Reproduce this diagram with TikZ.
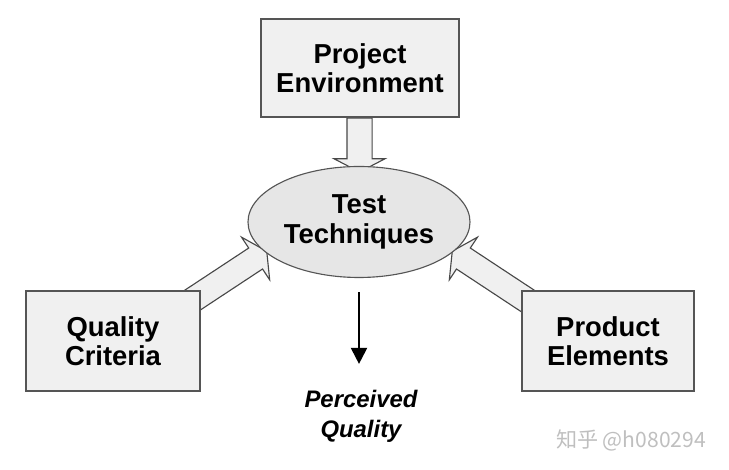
\documentclass[tikz,border=0pt]{standalone}
\usepackage{fontspec}
\setmainfont{Liberation Sans}
\newfontfamily\cjkfont{Noto Sans CJK SC}
\usepackage{tikz}
\usetikzlibrary{arrows.meta,positioning,calc,shapes.geometric,shapes.arrows,backgrounds}
\definecolor{boxfill}{HTML}{F0F0F0}
\definecolor{boxline}{HTML}{555555}

\begin{document}
\begin{tikzpicture}[
  font=\bfseries\fontsize{19.5}{21}\selectfont,
  bx/.style  ={draw=boxline, fill=boxfill, line width=0.8pt, align=center,
               minimum height=25mm},
  ell/.style ={ellipse, draw=boxline, fill=boxfill!96!black, line width=0.8pt,
               inner sep=0pt, align=center, minimum width=55.5mm, minimum height=27.75mm},
  blk/.style ={single arrow, draw=boxline!85!black, fill=boxfill, line width=0.8pt,
               inner xsep=0pt, inner ysep=3mm, minimum width=12.5mm,
               single arrow head extend=3.25mm, single arrow tip angle=125,
               single arrow head indent=0pt},
  ar/.style  ={-{Triangle[length=4mm,width=4mm]}, line width=0.5mm}
]
\useasboundingbox (0,0) rectangle (18.225,11.725);

% ---------- boxes and ellipse ----------
\node[bx, minimum width=49.5mm, minimum height=24.5mm] (pe) at (9.0,10.025) {Project\\Environment};
\node[ell] (tt) at (8.975,6.175) {Test\\Techniques};
\node[bx, minimum width=43.5mm] (qc) at (2.825,3.2)  {Quality\\Criteria};
\node[bx, minimum width=43mm]   (pr) at (15.2,3.2)   {Product\\Elements};
\node[font=\bfseries\itshape\fontsize{17}{21}\selectfont, align=center, inner sep=0pt]
  (pq) at (9.025,1.3125) {Perceived\\Quality};
\node[text=black!25, font=\cjkfont\fontsize{15}{15}\selectfont] (wm) at (15.775,0.725) {知乎 @h080294};

% ---------- block arrows (behind) ----------
\begin{scope}[on background layer]
\node[blk, rotate=-90, minimum height=13.5mm] (ape) at ($(pe.south)!0.5!(tt.north)$) {};
\node[blk, rotate=33.4,  minimum height=27.25mm] (aqc) at (5.4625,4.65) {};
\node[blk, rotate=146.6, minimum height=27.25mm] (apr) at (12.5125,4.65) {};
\end{scope}

\draw[ar, shorten <=3.5mm, shorten >=6.6mm] (tt.south) -- (tt.south |- pq.north);
\end{tikzpicture}
\end{document}
